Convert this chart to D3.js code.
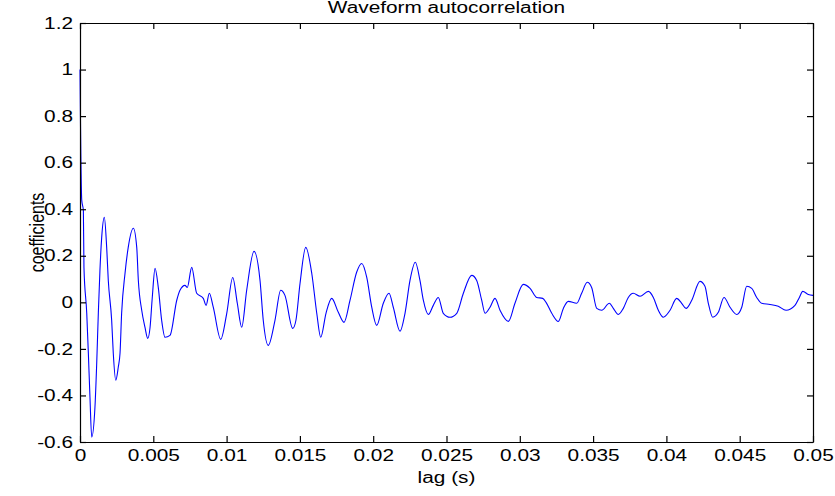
<!DOCTYPE html>
<html>
<head>
<meta charset="utf-8">
<script src="https://cdn.jsdelivr.net/npm/d3@7"></script>
<style>
  body { margin: 0; background: #fff; }
  svg text { font-family: "Liberation Sans", Arial, sans-serif; fill: #000; }
</style>
</head>
<body>
<div id="chart"></div>
<script>
// lag (s) and autocorrelation coefficient
const lags = [
  0, 0.00003, 0.00012, 0.00023, 0.00027, 0.00046, 0.00057, 0.00068, 0.0008, 0.00102,
  0.00114, 0.00125, 0.00136, 0.00148, 0.00166, 0.00182, 0.00193, 0.00216, 0.00227, 0.00244,
  0.00261, 0.00273, 0.00284, 0.00307, 0.00329, 0.00364, 0.00387, 0.00398, 0.00421, 0.00443,
  0.00462, 0.00478, 0.00493, 0.00512, 0.00534, 0.00557, 0.0058, 0.00614, 0.0066, 0.00682,
  0.00716, 0.00732, 0.00762, 0.00796, 0.00841, 0.0086, 0.00882, 0.00909, 0.0096, 0.01001,
  0.01042, 0.01073, 0.01103, 0.01137, 0.01187, 0.01228, 0.0125, 0.01284, 0.0133, 0.01369,
  0.01398, 0.01451, 0.01473, 0.01501, 0.0154, 0.01581, 0.01615, 0.01642, 0.01678, 0.01717,
  0.01762, 0.01801, 0.01842, 0.01887, 0.01922, 0.01956, 0.0199, 0.02024, 0.02069, 0.02108,
  0.02137, 0.02183, 0.02217, 0.02251, 0.02287, 0.02319, 0.02342, 0.02376, 0.0241, 0.02444,
  0.02478, 0.02524, 0.0257, 0.02615, 0.02672, 0.02706, 0.0274, 0.02763, 0.02797, 0.02831,
  0.02865, 0.02922, 0.02967, 0.03024, 0.0307, 0.03115, 0.03156, 0.03179, 0.03218, 0.03263,
  0.03297, 0.03331, 0.03388, 0.03422, 0.0346, 0.0349, 0.03525, 0.03559, 0.03611, 0.03638,
  0.03672, 0.03706, 0.0374, 0.03774, 0.0382, 0.03877, 0.03911, 0.03945, 0.03979, 0.04025,
  0.0407, 0.04104, 0.04134, 0.04173, 0.04229, 0.04263, 0.04286, 0.04316, 0.04354, 0.04393,
  0.04434, 0.0448, 0.04514, 0.04548, 0.04582, 0.04616, 0.0465, 0.04707, 0.04763, 0.04816,
  0.04877, 0.04907, 0.0493, 0.04968, 0.05,
]
const coefficients = [
  1.0, 0.794, 0.438, 0.395, 0.15, -0.047, -0.219, -0.408, -0.579, -0.451,
  -0.262, -0.047, 0.137, 0.279, 0.365, 0.236, 0.094, -0.077, -0.219, -0.335,
  -0.279, -0.219, -0.047, 0.124, 0.236, 0.318, 0.236, 0.094, -0.034, -0.107,
  -0.155, -0.107, 0.021, 0.146, 0.064, -0.077, -0.15, -0.142, 0.009, 0.052,
  0.073, 0.064, 0.15, 0.039, 0.017, -0.013, 0.039, -0.021, -0.159, -0.047,
  0.107, -0.004, -0.107, 0.052, 0.219, 0.094, -0.077, -0.185, -0.077, 0.052,
  0.03, -0.112, -0.077, 0.082, 0.236, 0.124, -0.047, -0.15, -0.047, 0.017,
  -0.043, -0.086, 0.009, 0.129, 0.167, 0.107, -0.021, -0.099, -0.004, 0.039,
  -0.021, -0.124, -0.047, 0.094, 0.172, 0.094, 0.009, -0.052, -0.013, 0.021,
  -0.047, -0.064, -0.047, 0.039, 0.116, 0.094, 0.009, -0.047, -0.021, 0.017,
  -0.034, -0.082, -0.004, 0.077, 0.06, 0.021, 0.017, 0.0, -0.047, -0.082,
  -0.026, 0.004, -0.004, 0.039, 0.086, 0.064, -0.026, -0.034, -0.004, -0.026,
  -0.052, -0.026, 0.021, 0.039, 0.026, 0.047, 0.021, -0.034, -0.064, -0.034,
  0.017, -0.004, -0.026, 0.009, 0.09, 0.069, -0.004, -0.064, -0.043, 0.021,
  -0.021, -0.052, -0.021, 0.069, 0.06, 0.021, -0.004, -0.009, -0.017, -0.034,
  -0.013, 0.021, 0.047, 0.034, 0.03,
]
const xTicks = [0, 0.005, 0.01, 0.015, 0.02, 0.025, 0.03, 0.035, 0.04, 0.045, 0.05]
const yTicks = [-0.6, -0.4, -0.2, 0, 0.2, 0.4, 0.6, 0.8, 1, 1.2]

function draw() {
  const dataset = lags.map((lag, i) => ({ lag, coef: coefficients[i] }))
  const xAccessor = d => d.lag
  const yAccessor = d => d.coef

  const dimensions = {
    width: 835,
    height: 496,
    margin: { top: 23, left: 80, bottom: 54, right: 22 },
  }
  dimensions.ctrWidth = dimensions.width - dimensions.margin.left - dimensions.margin.right
  dimensions.ctrHeight = dimensions.height - dimensions.margin.top - dimensions.margin.bottom

  // the figure's text is wider than the font at this height
  const stretchX = 1.3
  const stretch = sel =>
    sel.each(function () {
      const w = this.getComputedTextLength()
      d3.select(this).attr("textLength", w * stretchX).attr("lengthAdjust", "spacingAndGlyphs")
    })

  const xScale = d3.scaleLinear().domain([0, 0.05]).range([0, dimensions.ctrWidth])
  const yScale = d3.scaleLinear().domain([-0.6, 1.2]).range([dimensions.ctrHeight, 0])

  const svg = d3
    .select("#chart")
    .append("svg")
    .attr("width", dimensions.width)
    .attr("height", dimensions.height)

  const ctr = svg
    .append("g")
    .attr("transform", `translate(${dimensions.margin.left}, ${dimensions.margin.top})`)

  // the curve
  const line = d3
    .line()
    .x(d => xScale(xAccessor(d)))
    .y(d => yScale(yAccessor(d)))
    .curve(d3.curveMonotoneX)

  ctr
    .append("path")
    .datum(dataset)
    .attr("d", line)
    .attr("fill", "none")
    .attr("stroke", "#0000ff")
    .attr("stroke-width", 1.1)

  // Axes, ticks pointing inward on all four sides
  const tick = 6
  const xAxisGroup = ctr
    .append("g")
    .attr("transform", `translate(0, ${dimensions.ctrHeight})`)
    .call(d3.axisBottom(xScale).tickValues(xTicks).tickFormat(d => String(d)).tickSizeInner(-tick).tickSizeOuter(0).tickPadding(8))

  const yAxisGroup = ctr
    .append("g")
    .call(d3.axisLeft(yScale).tickValues(yTicks).tickFormat(d => String(d)).tickSizeInner(-tick).tickSizeOuter(0).tickPadding(7))

  ctr
    .append("g")
    .call(d3.axisTop(xScale).tickValues(xTicks).tickFormat("").tickSizeInner(-tick).tickSizeOuter(0))

  ctr
    .append("g")
    .attr("transform", `translate(${dimensions.ctrWidth}, 0)`)
    .call(d3.axisRight(yScale).tickValues(yTicks).tickFormat("").tickSizeInner(-tick).tickSizeOuter(0))

  ctr.selectAll(".domain, .tick line").attr("stroke", "#000").attr("stroke-width", 1.2)
  ctr.selectAll(".tick text").attr("font-size", 16).attr("fill", "#000").attr("font-family", null)
  stretch(xAxisGroup.selectAll(".tick text"))
  stretch(yAxisGroup.selectAll(".tick text"))

  // labels
  svg
    .append("text")
    .attr("x", dimensions.margin.left + dimensions.ctrWidth / 2)
    .attr("y", 13)
    .attr("text-anchor", "middle")
    .attr("font-size", 16)
    .text("Waveform autocorrelation")
    .call(stretch)

  svg
    .append("text")
    .attr("x", dimensions.margin.left + dimensions.ctrWidth / 2)
    .attr("y", 483)
    .attr("text-anchor", "middle")
    .attr("font-size", 16)
    .text("lag (s)")
    .call(stretch)

  svg
    .append("text")
    .attr("transform", `translate(44, ${dimensions.margin.top + dimensions.ctrHeight / 2}) rotate(-90) scale(1, ${stretchX})`)
    .attr("text-anchor", "middle")
    .attr("font-size", 16)
    .text("coefficients")
}

draw()
</script>
</body>
</html>
